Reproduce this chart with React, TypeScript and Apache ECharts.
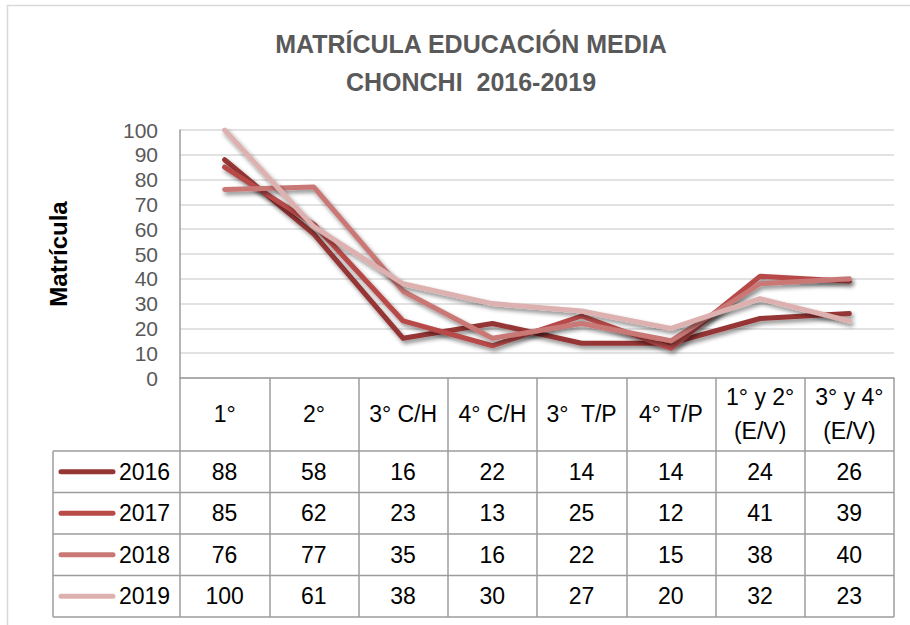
import React, { useEffect, useRef } from "react";
import * as echarts from "echarts";

const categories = ["1°", "2°", "3° C/H", "4° C/H", "3°  T/P", "4° T/P", "1° y 2°\n(E/V)", "3° y 4°\n(E/V)"];
const years = ["2016", "2017", "2018", "2019"];
const values2016 = [88, 58, 16, 22, 14, 14, 24, 26];
const values2017 = [85, 62, 23, 13, 25, 12, 41, 39];
const values2018 = [76, 77, 35, 16, 22, 15, 38, 40];
const values2019 = [100, 61, 38, 30, 27, 20, 32, 23];
const seriesValues = [values2016, values2017, values2018, values2019];
const colors = ["#963634", "#B84A48", "#C97876", "#DDB1B0"];
const titleText = "MATRÍCULA EDUCACIÓN MEDIA\nCHONCHI  2016-2019";
const yAxisName = "Matrícula";

const FONT = "'Liberation Sans', Arial, sans-serif";
const TABLE_LINE = "#9C9C9C";

export default function App() {
  const ref = useRef<HTMLDivElement>(null);
  useEffect(() => {
    document.body.style.margin = "0";
    if (!ref.current) return;
    const chart = echarts.init(ref.current, null, { renderer: "svg" });
    const option: any = {
      animation: false,
      backgroundColor: "#ffffff",
      textStyle: { fontFamily: FONT },
      title: {
        text: titleText,
        left: 466,
        top: 20,
        textAlign: "center",
        textStyle: {
          fontFamily: FONT,
          fontSize: 25,
          fontWeight: "bold",
          color: "#595959",
          lineHeight: 38,
        },
      },
      grid: { left: 180, top: 130, right: 16, bottom: 247, containLabel: false },
      xAxis: {
        type: "category",
        data: categories,
        boundaryGap: true,
        axisLine: { show: true, lineStyle: { color: TABLE_LINE, width: 1.5 } },
        axisTick: {
          show: true,
          interval: 0,
          length: 239,
          lineStyle: { color: TABLE_LINE, width: 1.5 },
        },
        axisLabel: {
          interval: 0,
          margin: 36,
          verticalAlign: "middle",
          fontFamily: FONT,
          fontSize: 23,
          lineHeight: 34,
          color: "#000000",
        },
        splitLine: { show: false },
      },
      yAxis: {
        type: "value",
        min: 0,
        max: 100,
        interval: 10,
        name: yAxisName,
        nameLocation: "middle",
        nameRotate: 90,
        nameGap: 110,
        nameTextStyle: { fontFamily: FONT, fontSize: 24, fontWeight: "bold", color: "#000000" },
        axisLine: { show: true, lineStyle: { color: TABLE_LINE, width: 1.5 } },
        axisTick: { show: false },
        axisLabel: { margin: 22, fontFamily: FONT, fontSize: 21, color: "#595959" },
        splitLine: { show: true, lineStyle: { color: "#D9D9D9", width: 1.5 } },
      },
      series: years.map((y, i) => ({
        name: y,
        type: "line",
        data: seriesValues[i],
        symbol: "none",
        lineStyle: {
          color: colors[i],
          width: 5,
          cap: "round",
          join: "round",
          shadowColor: "rgba(0,0,0,0.45)",
          shadowBlur: 4,
          shadowOffsetX: 2,
          shadowOffsetY: 3,
        },
        itemStyle: { color: colors[i] },
        z: 2 + i,
      })),
    };
    chart.setOption(option);

    const xs = categories.map((_, i) => chart.convertToPixel({ xAxisIndex: 0 }, i) as number);
    const step = xs[1] - xs[0];
    const rightEdge = xs[xs.length - 1] + step / 2;
    const axisY = chart.convertToPixel({ yAxisIndex: 0 }, 0) as number;
    const headerH = 73;
    const rowH = 41.5;
    const tableLeft = 53;
    const tableTop = axisY + headerH;
    const tableBottom = tableTop + rowH * years.length;

    const graphics: any[] = [];
    graphics.push({
      type: "rect",
      shape: { x: 7.5, y: 5.5, width: 1200, height: 1200 },
      style: { fill: "none", stroke: "#D9D9D9", lineWidth: 1.5 },
      z: 0,
      silent: true,
    });
    for (let r = 0; r <= years.length; r++) {
      const y = tableTop + r * rowH;
      graphics.push({
        type: "line",
        shape: { x1: tableLeft, y1: y, x2: rightEdge, y2: y },
        style: { stroke: TABLE_LINE, lineWidth: 1.5 },
        silent: true,
      });
    }
    graphics.push({
      type: "line",
      shape: { x1: tableLeft, y1: tableTop, x2: tableLeft, y2: tableBottom },
      style: { stroke: TABLE_LINE, lineWidth: 1.5 },
      silent: true,
    });
    years.forEach((yr, r) => {
      const cy = tableTop + r * rowH + rowH / 2;
      graphics.push({
        type: "line",
        shape: { x1: 61, y1: cy, x2: 113, y2: cy },
        style: { stroke: colors[r], lineWidth: 5, lineCap: "round" },
        silent: true,
      });
      graphics.push({
        type: "text",
        x: 119,
        y: cy,
        style: {
          text: yr,
          fontFamily: FONT,
          fontSize: 23,
          fill: "#000000",
          textAlign: "left",
          textVerticalAlign: "middle",
        },
        silent: true,
      });
      seriesValues[r].forEach((v, c) => {
        graphics.push({
          type: "text",
          x: xs[c],
          y: cy,
          style: {
            text: String(v),
            fontFamily: FONT,
            fontSize: 23,
            fill: "#000000",
            textAlign: "center",
            textVerticalAlign: "middle",
          },
          silent: true,
        });
      });
    });
    chart.setOption({ graphic: graphics });

    return () => chart.dispose();
  }, []);
  return <div ref={ref} style={{ width: 910, height: 625 }} />;
}
